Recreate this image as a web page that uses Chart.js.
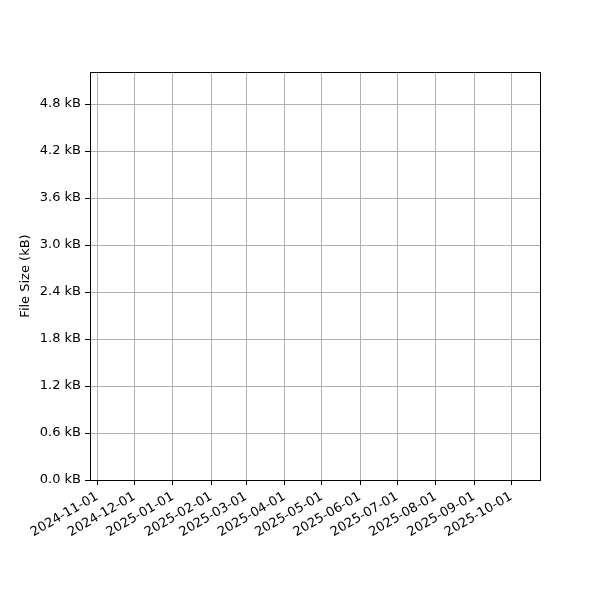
<!DOCTYPE html>
<html>
<head>
<meta charset="utf-8">
<script src="https://cdn.jsdelivr.net/npm/chart.js@4/dist/chart.umd.min.js"></script>
<style>
	html, body { margin: 0; padding: 0; background: #ffffff; }
	#wrap { width: 600px; height: 600px; }
</style>
</head>
<body>
<div id="wrap"><canvas id="size-chart" width="600" height="600"></canvas></div>
<script>
// Month ticks shown on the x axis.
const monthLabels = ['2024-11-01', '2024-12-01', '2025-01-01', '2025-02-01', '2025-03-01', '2025-04-01',
	'2025-05-01', '2025-06-01', '2025-07-01', '2025-08-01', '2025-09-01', '2025-10-01'];

// File size series (the plot has no points).
const sizeDates = [];
const sizeValues = [];

// Y tick values in kB.
const yTicks = [0, 0.6, 1.2, 1.8, 2.4, 3.0, 3.6, 4.2, 4.8];

// Axis limits: x in days relative to the first month tick, y in kB.
const xMinDays = -5.9;
const xMaxDays = 357.2;
const yMax = 5.21;

(function() {
	'use strict';

	const DAY = 86400000;
	const origin = Date.parse(monthLabels[0] + 'T00:00:00Z');
	const toDays = function(label) {
		return (Date.parse(label + 'T00:00:00Z') - origin) / DAY;
	};
	const monthDays = monthLabels.map(toDays);

	const font = { family: '"DejaVu Sans", sans-serif', size: 13 };

	// Draw the top and right spines too, like a full axes frame.
	const framePlugin = {
		id: 'frame',
		afterDraw: function(chart) {
			const a = chart.chartArea;
			const c = chart.ctx;
			c.save();
			c.strokeStyle = '#000000';
			c.lineWidth = 1;
			c.strokeRect(Math.round(a.left) + 0.5, Math.round(a.top) + 0.5,
				Math.round(a.right - a.left), Math.round(a.bottom - a.top));
			c.restore();
		}
	};

	new Chart(document.getElementById('size-chart'), {
		type: 'scatter',
		data: {
			datasets: [{
				label: 'File Size',
				data: sizeDates.map(function(d, i) {
					return { x: toDays(d), y: sizeValues[i] };
				}),
				borderColor: '#1f77b4',
				backgroundColor: '#1f77b4',
				showLine: true
			}]
		},
		options: {
			responsive: false,
			animation: false,
			layout: { padding: { left: 0, right: 60, top: 72, bottom: 0 } },
			plugins: {
				legend: { display: false },
				tooltip: { enabled: false }
			},
			scales: {
				x: {
					type: 'linear',
					min: xMinDays,
					max: xMaxDays,
					afterBuildTicks: function(axis) {
						axis.ticks = monthDays.map(function(v) { return { value: v }; });
					},
					afterFit: function(axis) { axis.height = 120; },
					grid: {
						color: '#b0b0b0',
						lineWidth: 1,
						tickColor: '#000000',
						tickLength: 5
					},
					border: { display: false },
					ticks: {
						color: '#000000',
						font: font,
						padding: 4,
						autoSkip: false,
						minRotation: 30,
						maxRotation: 30,
						callback: function(value) {
							const i = monthDays.indexOf(value);
							return i >= 0 ? monthLabels[i] : '';
						}
					}
				},
				y: {
					min: 0,
					max: yMax,
					afterBuildTicks: function(axis) {
						axis.ticks = yTicks.map(function(v) { return { value: v }; });
					},
					afterFit: function(axis) { axis.width = 90; },
					grid: {
						color: '#b0b0b0',
						lineWidth: 1,
						tickColor: '#000000',
						tickLength: 5
					},
					border: { display: false },
					title: {
						display: true,
						text: 'File Size (kB)',
						color: '#000000',
						font: font,
						padding: { top: 18, bottom: 4 }
					},
					ticks: {
						color: '#000000',
						font: font,
						padding: 4,
						callback: function(value) {
							return value.toFixed(1) + ' kB';
						}
					}
				}
			}
		},
		plugins: [framePlugin]
	});
})();
</script>
</body>
</html>
